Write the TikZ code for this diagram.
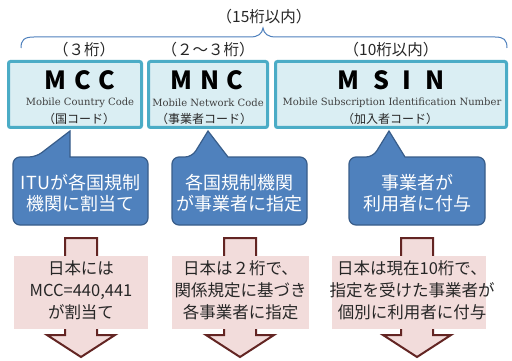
\documentclass[tikz,border=0pt]{standalone}
\usepackage{fontspec}
\setmainfont{Noto Sans CJK JP}
\newfontfamily\jp{Noto Sans CJK JP}
\newfontfamily\enserif{DejaVu Serif}
\definecolor{tealbd}{HTML}{4BACC6}
\definecolor{tealfill}{HTML}{DAEEF3}
\definecolor{bracecol}{HTML}{4F81BD}
\definecolor{callfill}{HTML}{4F81BD}
\definecolor{calldraw}{HTML}{385D8A}
\definecolor{pinkfill}{HTML}{F2DCDB}
\definecolor{arrowdraw}{HTML}{632523}
\definecolor{txtdark}{HTML}{262626}
\definecolor{txtgray}{HTML}{404040}
\tikzset{
  codebox/.style={draw=tealbd, line width=3pt, fill=tealfill, rounded corners=2pt,
    minimum height=66pt, inner sep=0pt},
  bigletters/.style={font=\jp\bfseries\fontsize{25}{25}\selectfont, text=black, inner sep=0pt},
  engname/.style={font=\enserif\fontsize{10}{12}\selectfont, text=txtgray, inner sep=0pt},
  jpname/.style={font=\jp\fontsize{12}{14}\selectfont, text=txtdark, inner sep=0pt},
  digits/.style={font=\jp\fontsize{15.5}{17}\selectfont, text=txtdark, inner sep=0pt},
  callout/.style={fill=callfill, draw=calldraw, line width=1.2pt},
  calltext/.style={font=\jp\fontsize{18}{21}\selectfont, text=white, align=center, inner sep=0pt},
  pinkbox/.style={fill=pinkfill, draw=none, minimum height=73pt, inner sep=0pt},
  pinktext/.style={font=\jp\fontsize{16.5}{22}\selectfont, text=txtdark, align=center, inner sep=0pt},
  blockarrow/.style={fill=pinkfill, draw=arrowdraw, line width=2pt, line join=miter},
  bracepath/.style={draw=bracecol, line width=1pt}
}
\newcommand\mycallout[5]{%
  \draw[callout] (#1,191) [rounded corners=7pt] -- (#1,157) -- (#3,157) [sharp corners] -- (#5,131) -- (#4,157) [rounded corners=7pt] -- (#2,157) -- (#2,225) -- (#1,225) -- cycle;}
\newcommand\myarrow[1]{%
  \draw[blockarrow] (#1-16,238) -- (#1+16,238) -- (#1+16,335) -- (#1+34,335) -- (#1,357) -- (#1-34,335) -- (#1-16,335) -- cycle;}
\begin{document}
\begin{tikzpicture}[x=1pt,y=-1pt]
\useasboundingbox[fill=white] (0,0) rectangle (512,361);
% brace
\draw[bracepath] (21,48) .. controls (21,40) and (24,37) .. (34,37) -- (250,37)
  .. controls (258,37) and (262,34) .. (263,28) .. controls (264,34) and (268,37) .. (276,37)
  -- (495,37) .. controls (504,37) and (507,40) .. (507,48);
\node[digits] (l15) at (264,17) {（15桁以内）};
\node[digits] (l3) at (84,50) {（３桁）};
\node[digits] (l23) at (208,50) {（２～３桁）};
\node[digits] (l10) at (391,50) {（10桁以内）};
% code boxes
\node[codebox, minimum width=133pt] (mcc) at (75,94.5) {};
\node[codebox, minimum width=119pt] (mnc) at (208,94.5) {};
\node[codebox, minimum width=231pt] (msin) at (391,94.5) {};
\node[bigletters] (mcct) at (80,80) {M\hspace{0.3em}C\hspace{0.3em}C};
\node[bigletters] (mnct) at (207,80) {M\hspace{0.3em}N\hspace{0.3em}C};
\node[bigletters] (msint) at (391,80) {M\hspace{0.55em}S\hspace{0.55em}I\hspace{0.55em}N};
\node[engname] (mcce) at (80,103) {Mobile Country Code};
\node[engname] (mnce) at (208,103) {Mobile Network Code};
\node[engname] (msine) at (392,103) {Mobile Subscription Identification Number};
\node[jpname] (mccj) at (79,119) {（国コード）};
\node[jpname] (mncj) at (204,119) {（事業者コード）};
\node[jpname] (msinj) at (390,119) {（加入者コード）};
% callouts
\mycallout{13}{148}{36}{70}{70}
\mycallout{172}{307}{192}{228}{208}
\mycallout{349}{485}{373}{405}{389}
\node[calltext] (c1) at (80.5,193) {ITUが各国規制\\機関に割当て};
\node[calltext] (c2) at (239.5,193) {各国規制機関\\が事業者に指定};
\node[calltext] (c3) at (417,193) {事業者が\\利用者に付与};
% arrows and pink boxes
\myarrow{81}
\myarrow{240}
\myarrow{417}
\node[pinkbox, minimum width=134pt] (p1) at (81,292.5) {};
\node[pinkbox, minimum width=137pt] (p2) at (240.5,292.5) {};
\node[pinkbox, minimum width=154pt] (p3) at (409,292.5) {};
\node[pinktext] (t1) at (81,290) {日本には\\MCC=440,441\\が割当て};
\node[pinktext] (t2) at (240.5,290) {日本は２桁で、\\関係規定に基づき\\各事業者に指定};
\node[pinktext] (t3) at (412,290) {日本は現在10桁で、\\指定を受けた事業者が\\個別に利用者に付与};
\end{tikzpicture}
\end{document}
